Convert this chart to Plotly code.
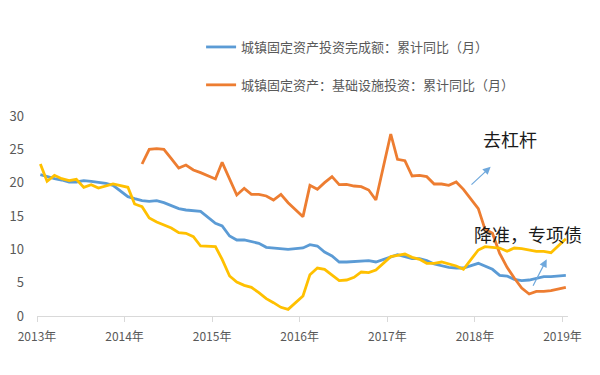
import plotly.graph_objects as go

# ---- data (cumulative YoY, %) ----
fai_months = [f"{y}-{m:02d}" for y in range(2013, 2019) for m in range(2, 13)] + ["2019-02"]
fai_values = [
    21.2, 20.9, 20.6, 20.4, 20.1, 20.1, 20.3, 20.2, 20.1, 19.9, 19.6,
    17.9, 17.6, 17.3, 17.2, 17.3, 17.0, 16.5, 16.1, 15.9, 15.8, 15.7,
    13.9, 13.5, 12.0, 11.4, 11.4, 11.2, 10.9, 10.3, 10.2, 10.2, 10.0,
    10.2, 10.7, 10.5, 9.6, 9.0, 8.1, 8.1, 8.2, 8.3, 8.3, 8.1,
    8.9, 9.2, 8.9, 8.6, 8.6, 8.3, 7.8, 7.5, 7.3, 7.2, 7.2,
    7.9, 7.5, 7.0, 6.1, 6.0, 5.5, 5.3, 5.4, 5.7, 5.9, 5.9,
    6.1,
]

re_months = fai_months
re_values = [
    22.8, 20.2, 21.1, 20.6, 20.3, 20.5, 19.3, 19.7, 19.2, 19.5, 19.8,
    19.3, 16.8, 16.4, 14.7, 14.1, 13.7, 13.2, 12.5, 12.4, 11.9, 10.5,
    10.4, 8.5, 6.0, 5.1, 4.6, 4.3, 3.5, 2.6, 2.0, 1.3, 1.0,
    3.0, 6.2, 7.2, 7.0, 6.1, 5.3, 5.4, 5.8, 6.6, 6.5, 6.9,
    8.9, 9.1, 9.3, 8.8, 8.5, 7.9, 7.9, 8.1, 7.8, 7.5, 7.0,
    9.9, 10.4, 10.3, 10.2, 9.7, 10.2, 10.1, 9.9, 9.7, 9.7, 9.5,
    11.6,
]

infra_months = [
    "2014-04", "2014-05", "2014-06", "2014-07", "2014-08", "2014-09", "2014-10", "2014-11", "2014-12",
    "2015-02", "2015-03", "2015-04", "2015-05", "2015-06", "2015-07", "2015-08", "2015-09", "2015-10", "2015-11", "2015-12",
    "2016-02", "2016-03", "2016-04", "2016-05", "2016-06", "2016-07", "2016-08", "2016-09", "2016-10", "2016-11", "2016-12",
    "2017-02", "2017-03", "2017-04", "2017-05", "2017-06", "2017-07", "2017-08", "2017-09", "2017-10", "2017-11", "2017-12",
    "2018-02", "2018-03", "2018-04", "2018-05", "2018-06", "2018-07", "2018-08", "2018-09", "2018-10", "2018-11", "2018-12",
    "2019-02",
]
infra_values = [
    22.8, 25.0, 25.1, 25.0, 23.6, 22.2, 22.65, 21.9, 21.5,
    20.55, 23.05, 20.5, 18.15, 19.15, 18.25, 18.25, 18.0, 17.4, 18.25, 17.0,
    14.9, 19.6, 19.0, 20.0, 20.9, 19.7, 19.75, 19.5, 19.4, 18.9, 17.4,
    27.3, 23.5, 23.3, 21.0, 21.1, 20.9, 19.8, 19.8, 19.6, 20.1, 19.0,
    16.1, 13.0, 12.4, 9.4, 7.3, 5.7, 4.2, 3.3, 3.7, 3.7, 3.8,
    4.3,
]

year_ticks = ["2013-01-18", "2014-01-18", "2015-01-18", "2016-01-18", "2017-01-18", "2018-01-18", "2019-01-18"]
year_labels = ["2013年", "2014年", "2015年", "2016年", "2017年", "2018年", "2019年"]
y_ticks = [0, 5, 10, 15, 20, 25, 30]

FONT = "Noto Sans CJK SC, Noto Sans, sans-serif"
BLUE = "#5B9BD5"
ORANGE = "#ED7D31"
YELLOW = "#FFC000"

fig = go.Figure()
fig.add_trace(go.Scatter(
    x=[m + "-01" for m in fai_months], y=fai_values, mode="lines",
    name="城镇固定资产投资完成额：累计同比（月）",
    line=dict(color=BLUE, width=2.8), legendgroup="a",
))
fig.add_trace(go.Scatter(
    x=[m + "-01" for m in infra_months], y=infra_values, mode="lines",
    name="城镇固定资产：基础设施投资：累计同比（月）",
    line=dict(color=ORANGE, width=2.8), legendgroup="b",
))
fig.add_trace(go.Scatter(
    x=[m + "-01" for m in re_months], y=re_values, mode="lines",
    name="房地产开发投资完成额：累计同比（月）", showlegend=False,
    line=dict(color=YELLOW, width=2.8),
))

# the page body has an 8px default margin, so the figure is 8px smaller
fig.update_layout(
    width=592, height=367,
    margin=dict(l=29, r=32, t=108, b=59, autoexpand=False),
    paper_bgcolor="white", plot_bgcolor="white",
    font=dict(family=FONT, color="#595959"),
    showlegend=True,
    legend=dict(
        x=0.309, y=1.42, xanchor="left", yanchor="top",
        font=dict(size=13, color="#595959", family=FONT),
        tracegroupgap=18, itemwidth=30, bgcolor="rgba(0,0,0,0)",
    ),
    xaxis=dict(
        type="date", range=["2013-01-18", "2019-02-10"],
        tickvals=year_ticks, ticktext=year_labels,
        showline=True, linecolor="#D9D9D9", linewidth=1,
        ticks="outside", ticklen=5, tickcolor="#D9D9D9",
        showgrid=False, zeroline=False, ticklabelstandoff=5,
        tickfont=dict(size=12, color="#595959"),
    ),
    yaxis=dict(
        range=[0, 30], tickvals=y_ticks,
        showline=False, showgrid=False, zeroline=False,
        ticks="", ticklabelstandoff=12,
        tickfont=dict(size=13, color="#595959"),
    ),
    annotations=[
        dict(text="去杠杆", xref="paper", yref="paper", x=0.891, y=0.885,
             xanchor="center", yanchor="middle",
             showarrow=False, font=dict(size=18, color="#1a1a1a", family=FONT)),
        dict(text="降准，专项债", xref="paper", yref="paper", x=0.925, y=0.41,
             xanchor="center", yanchor="middle",
             showarrow=False, font=dict(size=18, color="#1a1a1a", family=FONT)),
        dict(text="", xref="paper", yref="paper", x=0.8544, y=0.7465,
             ax=-20.7, ay=19.3, showarrow=True, arrowhead=2, arrowsize=1.3,
             arrowwidth=1.2, arrowcolor="#6FA8DC"),
        dict(text="", xref="paper", yref="paper", x=0.9599, y=0.2835,
             ax=-14.4, ay=28, showarrow=True, arrowhead=2, arrowsize=1.3,
             arrowwidth=1.2, arrowcolor="#6FA8DC"),
    ],
)

fig.write_html("out.html")
